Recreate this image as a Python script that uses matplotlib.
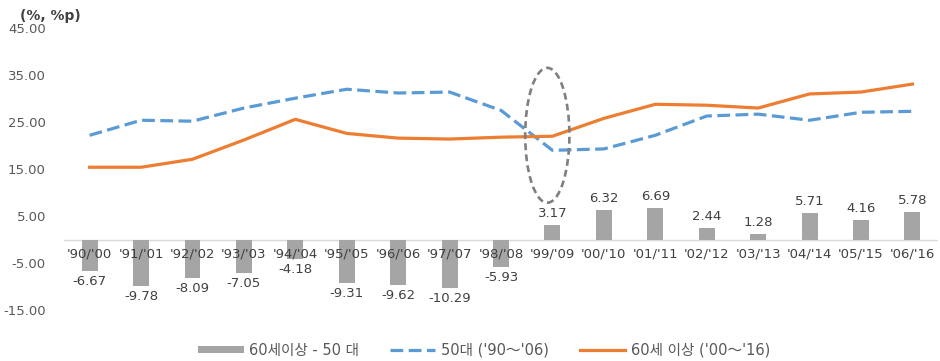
import matplotlib
matplotlib.use("Agg")
import matplotlib.pyplot as plt
from matplotlib.patches import Ellipse, Patch
from matplotlib.lines import Line2D
import numpy as np

plt.rcParams['font.family'] = ['DejaVu Sans', 'Noto Sans CJK KR']

categories = ["'90/'00", "'91/'01", "'92/'02", "'93/'03", "'94/'04", "'95/'05",
              "'96/'06", "'97/'07", "'98/'08", "'99/'09", "'00/'10", "'01/'11",
              "'02/'12", "'03/'13", "'04/'14", "'05/'15", "'06/'16"]
gap = [-6.67, -9.78, -8.09, -7.05, -4.18, -9.31, -9.62, -10.29, -5.93,
       3.17, 6.32, 6.69, 2.44, 1.28, 5.71, 4.16, 5.78]
age50 = [22.2, 25.4, 25.2, 28.0, 30.1, 32.0, 31.2, 31.4, 27.5,
         19.0, 19.3, 22.2, 26.3, 26.7, 25.4, 27.1, 27.3]
age60 = [15.4, 15.4, 17.1, 21.2, 25.6, 22.6, 21.6, 21.4, 21.8,
         22.0, 25.8, 28.8, 28.6, 28.0, 31.0, 31.4, 33.1]
yticks = [-15, -5, 5, 15, 25, 35, 45]

label_gray = '#595959'
text_dark = '#404040'
bar_color = '#A5A5A5'
blue = '#5B9BD5'
orange = '#ED7D31'
dash50 = (4.0, 1.7)

fig = plt.figure(figsize=(9.4, 3.61), dpi=100)
ax = fig.add_axes([0.068, 0.141, 0.93, 0.781])
x = np.arange(len(categories))

ax.bar(x, gap, width=0.31, color=bar_color, zorder=2)
ax.plot(x, age50, color=blue, lw=2.3, dashes=dash50, zorder=3)
ax.plot(x, age60, color=orange, lw=2.3, zorder=4)

ax.axhline(0, color='#D9D9D9', lw=1.0, zorder=1)

# value labels above positive bars, below negative ones
for xi, v in zip(x, gap):
    if v >= 0:
        ax.annotate(f'{v:.2f}', (xi, v), xytext=(0, 5), textcoords='offset pixels',
                    ha='center', va='bottom', fontsize=9.5, color=text_dark)
    else:
        ax.annotate(f'{v:.2f}', (xi, v), xytext=(0, -4), textcoords='offset pixels',
                    ha='center', va='top', fontsize=9.5, color=text_dark)

# category labels sit just under the zero line
for xi, lab in zip(x, categories):
    ax.annotate(lab, (xi, 0), xytext=(0, -8), textcoords='offset pixels',
                ha='center', va='top', fontsize=9.5, color=text_dark, zorder=5)

ax.add_patch(Ellipse((8.9, 22.2), width=0.86, height=28.7, fill=False,
                     edgecolor='#7F7F7F', lw=1.9, ls=(0, (2.6, 1.6)), zorder=5))

ax.set_xlim(-0.5, len(categories) - 0.5)
ax.set_ylim(-15, 45)
ax.set_yticks(yticks)
ax.set_yticklabels([f'{t:.2f}' for t in yticks], fontsize=9.5, color=label_gray)
ax.set_xticks([])
ax.tick_params(axis='y', length=0, pad=13)
for s in ax.spines.values():
    s.set_visible(False)

fig.text(0.021, 0.955, '(%, %p)', fontsize=10, color=text_dark, fontweight='bold',
         ha='left', va='center')

handles = [Patch(facecolor=bar_color, edgecolor='none'),
           Line2D([0], [0], color=blue, lw=2.3, dashes=dash50),
           Line2D([0], [0], color=orange, lw=2.3)]
labels = ['60세이상 - 50 대', "50대 ('90～'06)", "60세 이상 ('00～'16)"]
fig.legend(handles, labels, loc='center', bbox_to_anchor=(0.515, 0.03), ncol=3,
           frameon=False, fontsize=10.5, labelcolor=label_gray, handlelength=3.1,
           handleheight=0.45, columnspacing=2.1, handletextpad=0.4)

fig.savefig('out.png', dpi=100)
